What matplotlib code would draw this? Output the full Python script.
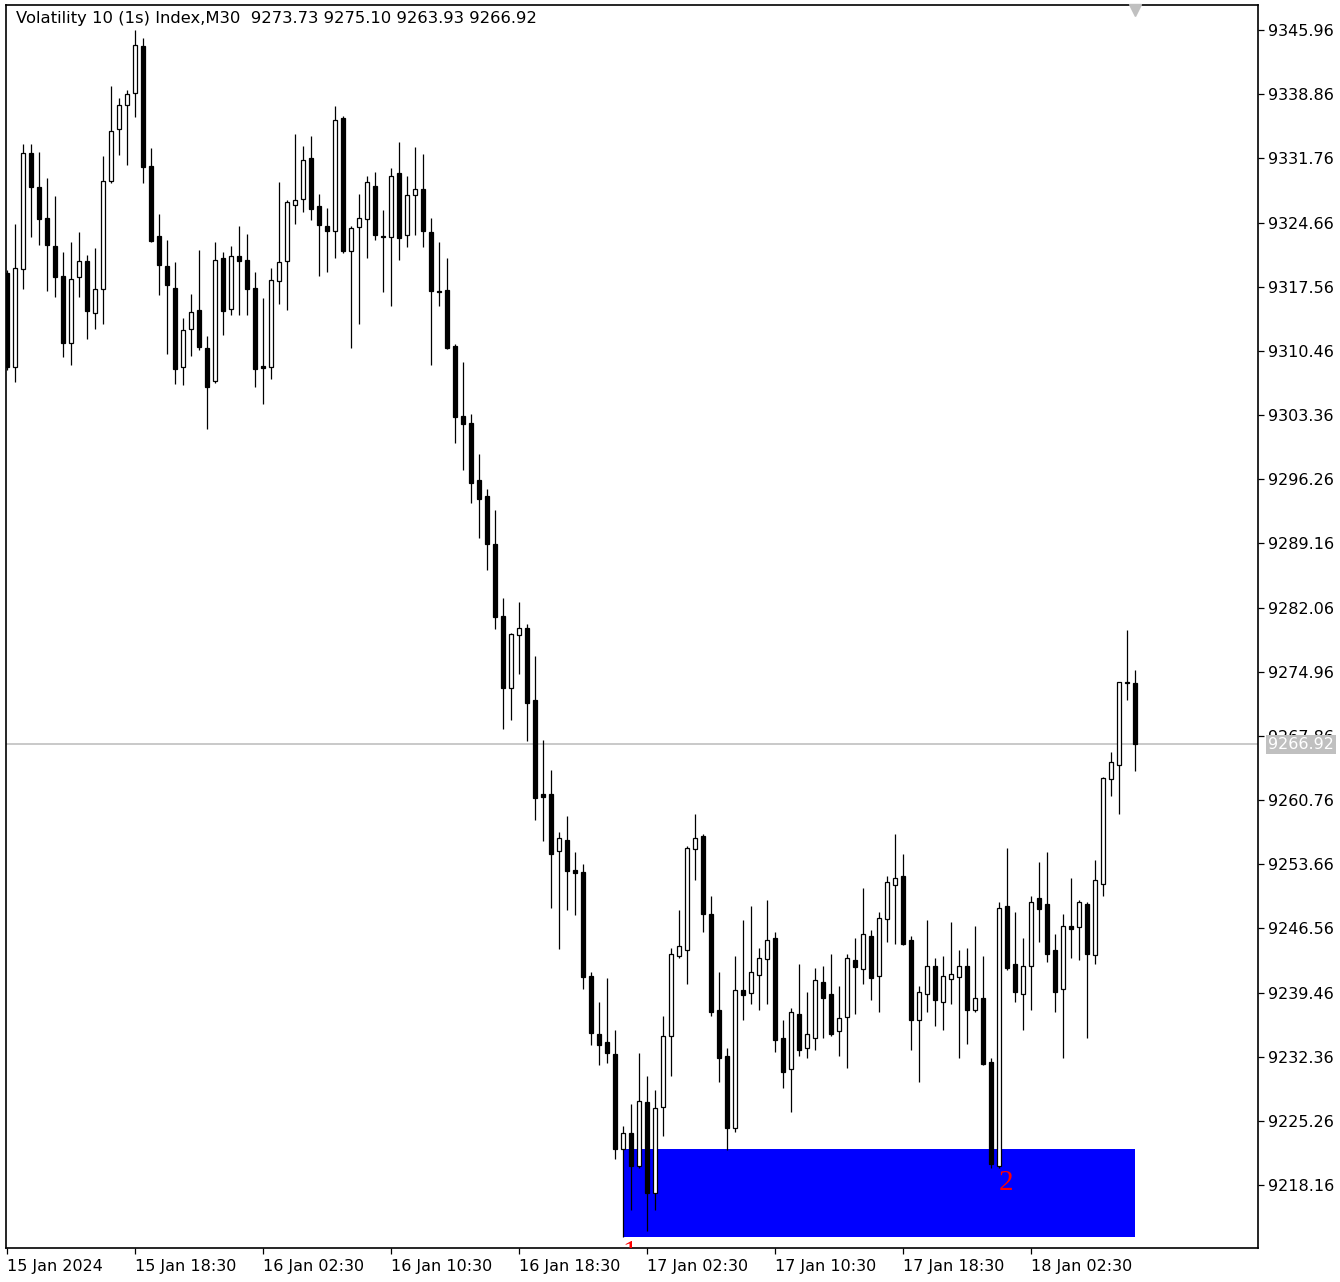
import matplotlib
matplotlib.use("Agg")
import matplotlib.pyplot as plt
import matplotlib.transforms as mtransforms
from matplotlib.patches import Rectangle
import numpy as np

title = "Volatility 10 (1s) Index,M30  9273.73 9275.10 9263.93 9266.92"

# M30 bars, first bar 15 Jan 10:30
opens = [9319.08, 9308.71, 9319.48, 9332.39, 9328.62, 9325.16, 9322.06, 9318.74, 9311.30, 9318.60,
         9320.44, 9314.68, 9317.27, 9329.22, 9335.04, 9337.70, 9338.96, 9344.19, 9330.91, 9323.17,
         9319.85, 9317.42, 9308.64, 9312.85, 9314.98, 9310.78, 9307.09, 9320.73, 9315.06, 9320.96,
         9320.51, 9317.42, 9308.79, 9308.64, 9318.16, 9320.37, 9326.57, 9327.23, 9331.80, 9326.49,
         9324.28, 9323.69, 9336.22, 9321.48, 9324.13, 9325.02, 9328.70, 9323.20, 9323.03, 9330.19,
         9323.26, 9327.74, 9328.41, 9323.59, 9317.07, 9317.15, 9310.98, 9303.27, 9302.50, 9296.15,
         9294.38, 9289.13, 9281.08, 9273.20, 9279.05, 9279.85, 9271.80, 9261.39, 9261.39, 9255.09,
         9256.32, 9252.99, 9252.81, 9241.26, 9234.88, 9234.00, 9232.69, 9222.19, 9223.94, 9220.26,
         9227.30, 9217.25, 9226.80, 9234.69, 9243.54, 9244.20, 9255.35, 9256.82, 9248.12, 9237.50,
         9232.41, 9224.51, 9239.71, 9239.41, 9241.41, 9243.18, 9245.47, 9234.40, 9231.01, 9237.06,
         9233.36, 9234.47, 9240.60, 9239.27, 9235.21, 9236.76, 9243.03, 9242.07, 9245.69, 9241.33,
         9247.60, 9251.36, 9252.33, 9245.24, 9236.46, 9239.34, 9242.37, 9238.45, 9240.96, 9241.18,
         9242.37, 9237.57, 9238.83, 9231.81, 9220.31, 9249.01, 9242.59, 9239.34, 9242.43, 9249.89,
         9249.23, 9244.14, 9239.86, 9246.79, 9246.72, 9249.23, 9243.62, 9251.51, 9263.09, 9264.64,
         9273.71, 9273.73]
highs = [9319.41, 9324.50, 9333.35, 9333.35, 9332.46, 9329.59, 9327.59, 9321.40, 9322.51, 9323.61,
         9321.10, 9321.84, 9332.02, 9339.76, 9338.44, 9339.32, 9345.96, 9345.08, 9332.91, 9325.60,
         9322.73, 9320.29, 9314.10, 9316.75, 9321.62, 9312.10, 9322.51, 9321.40, 9322.06, 9324.28,
         9323.39, 9319.19, 9316.31, 9319.63, 9329.14, 9327.15, 9334.45, 9333.13, 9334.23, 9327.82,
         9326.27, 9337.55, 9336.45, 9324.30, 9327.82, 9329.81, 9330.25, 9326.05, 9330.69, 9333.57,
         9329.77, 9333.07, 9332.23, 9325.12, 9322.49, 9320.71, 9311.23, 9309.19, 9303.44, 9299.04,
         9295.22, 9292.85, 9283.12, 9279.30, 9282.69, 9280.21, 9276.70, 9267.43, 9264.10, 9257.19,
         9259.03, 9255.00, 9253.69, 9241.79, 9238.46, 9241.08, 9235.32, 9224.73, 9227.09, 9232.78,
         9230.18, 9228.65, 9236.84, 9244.36, 9248.57, 9255.64, 9259.19, 9256.97, 9250.11, 9241.70,
         9233.30, 9243.48, 9247.46, 9249.01, 9244.36, 9249.67, 9246.13, 9236.39, 9237.72, 9242.59,
         9239.49, 9242.15, 9242.37, 9243.70, 9240.16, 9243.70, 9245.47, 9251.00, 9246.35, 9248.34,
         9252.33, 9256.97, 9254.76, 9245.69, 9240.16, 9247.46, 9243.25, 9243.48, 9247.24, 9244.14,
         9244.36, 9246.79, 9243.48, 9232.19, 9249.45, 9255.42, 9248.34, 9245.47, 9250.11, 9253.88,
         9254.98, 9245.91, 9248.12, 9252.10, 9249.67, 9249.45, 9254.10, 9263.30, 9266.05, 9273.85,
         9279.54, 9275.10]
lows = [9308.34, 9307.05, 9317.27, 9323.03, 9322.14, 9317.05, 9316.39, 9309.75, 9308.86, 9316.39,
        9311.74, 9312.85, 9313.43, 9329.00, 9332.10, 9330.99, 9336.30, 9329.00, 9322.51, 9316.61,
        9310.11, 9306.79, 9306.65, 9309.89, 9310.60, 9301.78, 9306.90, 9312.18, 9314.40, 9314.40,
        9314.40, 9306.43, 9304.58, 9307.31, 9315.65, 9314.98, 9324.50, 9325.82, 9324.94, 9318.74,
        9319.19, 9320.73, 9321.30, 9310.78, 9313.43, 9320.73, 9322.73, 9316.97, 9315.42, 9320.55,
        9321.90, 9323.26, 9321.90, 9308.85, 9315.46, 9310.63, 9300.22, 9297.33, 9293.62, 9289.80,
        9286.25, 9279.64, 9268.63, 9269.65, 9274.73, 9267.25, 9258.59, 9256.23, 9248.87, 9244.24,
        9248.62, 9248.00, 9239.87, 9233.65, 9231.47, 9231.64, 9221.05, 9212.42, 9215.45, 9220.10,
        9213.05, 9215.44, 9223.63, 9230.26, 9243.32, 9240.44, 9251.95, 9246.20, 9236.90, 9229.60,
        9222.08, 9224.07, 9236.46, 9238.23, 9237.57, 9238.23, 9232.92, 9228.94, 9226.28, 9232.48,
        9232.26, 9233.14, 9234.47, 9234.70, 9232.48, 9231.15, 9237.12, 9240.44, 9238.67, 9237.34,
        9245.09, 9244.87, 9244.70, 9233.14, 9229.60, 9237.34, 9235.79, 9235.35, 9238.23, 9232.26,
        9233.81, 9237.34, 9231.40, 9220.09, 9220.09, 9241.93, 9238.45, 9235.35, 9237.57, 9245.09,
        9242.88, 9237.34, 9232.26, 9243.32, 9243.10, 9234.47, 9242.66, 9250.18, 9261.24, 9259.25,
        9271.86, 9263.93]
closes = [9308.68, 9319.59, 9332.39, 9328.56, 9325.02, 9322.14, 9318.60, 9311.30, 9318.44, 9320.44,
          9314.84, 9317.34, 9329.29, 9334.82, 9337.70, 9338.88, 9344.33, 9330.77, 9322.65, 9319.93,
          9317.71, 9308.42, 9312.77, 9314.76, 9310.85, 9306.43, 9320.51, 9314.84, 9320.96, 9320.37,
          9317.27, 9308.42, 9308.56, 9318.30, 9320.29, 9326.93, 9327.15, 9331.58, 9326.12, 9324.35,
          9323.69, 9336.00, 9321.48, 9324.05, 9325.16, 9329.14, 9323.25, 9323.09, 9329.81, 9323.00,
          9327.74, 9328.34, 9323.68, 9317.07, 9317.00, 9310.80, 9303.10, 9302.42, 9295.82, 9294.04,
          9289.13, 9280.99, 9273.20, 9279.13, 9279.81, 9271.46, 9261.04, 9261.13, 9254.83, 9256.57,
          9252.90, 9252.72, 9241.17, 9234.97, 9233.65, 9232.78, 9222.19, 9223.94, 9220.26, 9227.44,
          9217.25, 9226.66, 9234.62, 9243.70, 9244.58, 9255.42, 9256.53, 9248.19, 9237.34, 9232.26,
          9224.51, 9239.71, 9239.19, 9241.70, 9243.25, 9245.24, 9234.25, 9230.71, 9237.28, 9233.14,
          9234.84, 9240.82, 9238.89, 9234.91, 9236.61, 9243.25, 9242.29, 9245.91, 9241.11, 9247.68,
          9251.66, 9252.10, 9244.87, 9236.46, 9239.49, 9242.37, 9238.67, 9241.26, 9241.48, 9242.37,
          9237.57, 9238.83, 9231.59, 9220.53, 9248.78, 9242.15, 9239.56, 9242.37, 9249.45, 9248.71,
          9243.76, 9239.56, 9246.79, 9246.49, 9249.45, 9243.76, 9251.88, 9263.17, 9264.94, 9273.79,
          9273.79, 9266.92]

time_ticks = [0, 16, 32, 48, 64, 80, 96, 112, 128]
time_labels = ["15 Jan 2024", "15 Jan 18:30", "16 Jan 02:30", "16 Jan 10:30", "16 Jan 18:30",
               "17 Jan 02:30", "17 Jan 10:30", "17 Jan 18:30", "18 Jan 02:30"]
price_ticks = [9345.96, 9338.86, 9331.76, 9324.66, 9317.56, 9310.46, 9303.36, 9296.26, 9289.16,
               9282.06, 9274.96, 9267.86, 9260.76, 9253.66, 9246.56, 9239.46, 9232.36, 9225.26, 9218.16]

# blue zone and the two numbered lows
zone_start, zone_end = 77, 141
zone_low, zone_high = 9212.42, 9222.19
marks = [(77, "1"), (124, "2")]

fig = plt.figure(figsize=(13.4, 12.82), dpi=100)
ax = fig.add_axes([6 / 1340, 34 / 1282, 1252 / 1340, 1243 / 1282])

x = np.arange(len(opens))
o = np.array(opens)
h = np.array(highs)
l = np.array(lows)
c = np.array(closes)
up = c >= o

ax.axhline(c[-1], color="#c0c0c0", lw=1.2, zorder=1)
ax.add_patch(Rectangle((zone_start, zone_low), zone_end - zone_start, zone_high - zone_low,
                       facecolor="#0000ff", edgecolor="none", zorder=2))

ax.vlines(x, l, h, color="black", lw=0.9, zorder=3)
ax.bar(x, np.abs(c - o), bottom=np.minimum(o, c), width=0.5,
       color=np.where(up, "white", "black"), edgecolor="black", linewidth=0.9, zorder=4)

for k, s in marks:
    ax.annotate(s, xy=(k, lows[k]), xytext=(0, -2), textcoords="offset points",
                ha="left", va="top", color="red", fontsize=21, family="Liberation Serif",
                clip_on=True, zorder=5)

ax.set_xlim(-0.09, 156.41)
ax.set_ylim(9211.20, 9348.73)

ax.yaxis.tick_right()
ax.set_yticks(price_ticks, [f"{p:.2f}" for p in price_ticks])
ax.set_xticks(time_ticks, time_labels)
for lbl in ax.get_xticklabels():
    lbl.set_horizontalalignment("left")
ax.tick_params(axis="y", length=4.5, width=0.9, pad=2.5, labelsize=11.5)
ax.tick_params(axis="x", length=4.5, width=0.9, pad=3.5, labelsize=11.5)
for sp in ax.spines.values():
    sp.set_linewidth(1.2)

# current price tag on the axis
trans = mtransforms.blended_transform_factory(ax.transAxes, ax.transData)
ax.text(1 + 10 / 1252, c[-1], f"{c[-1]:.2f}", transform=trans, ha="left", va="center",
        fontsize=11.5, color="white", clip_on=False, zorder=10,
        bbox=dict(facecolor="#c0c0c0", edgecolor="none", pad=1.5))

# shift marker at the top
trans2 = mtransforms.blended_transform_factory(ax.transData, ax.transAxes)
ax.plot([141], [1 - 5 / 1243], marker="v", ms=9, color="#c0c0c0", transform=trans2,
        clip_on=False, zorder=6)

fig.text(16 / 1340, 1 - 19 / 1282, title, ha="left", va="center", fontsize=11.8)

plt.savefig("out.png")
